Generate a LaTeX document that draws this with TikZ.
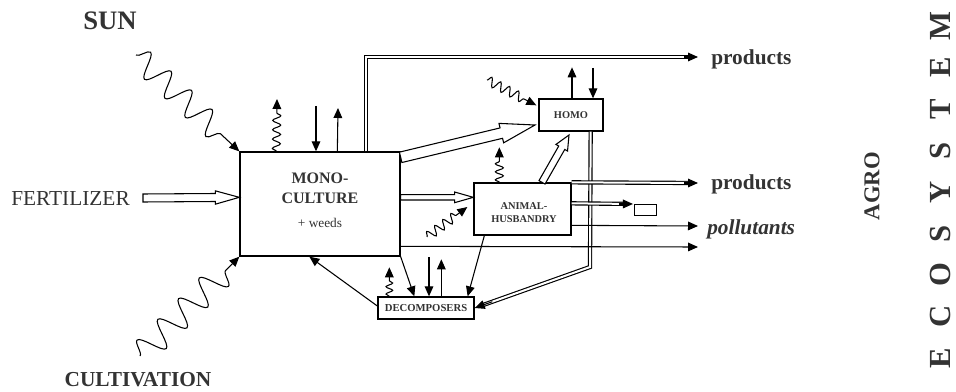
\documentclass[tikz,border=0pt]{standalone}
\usepackage{fontspec}
\setmainfont{Liberation Serif}
\usetikzlibrary{arrows.meta,decorations.pathmorphing,calc}
\definecolor{txt}{gray}{0.2}
\newcommand{\hollowarw}[5]{%
  \coordinate (fa-h) at ($(#2)!#5!(#1)$);
  \draw[hollow] ($(#1)!#3!90:(#2)$) -- ($(fa-h)!#3!90:(#2)$) -- ($(fa-h)!#4!90:(#2)$) -- (#2)
    -- ($(fa-h)!#4!-90:(#2)$) -- ($(fa-h)!#3!-90:(#2)$) -- ($(#1)!#3!-90:(#2)$) -- cycle;
}
\tikzset{
  box/.style={draw, line width=1pt, fill=white, inner sep=0pt, text=txt},
  con/.style={line width=0.8pt},
  tipa/.style={-{Triangle[length=7.5pt,width=6.5pt]}},
  dbl/.style={double, double distance=1.5pt, line width=0.85pt, shorten >=5pt},
  hollow/.style={line width=0.8pt, fill=white, line join=miter},
  wave/.style n args={3}{decorate, decoration={snake, amplitude=#1, segment length=#2, post length=#3}},
  lbl/.style={font=\bfseries, text=txt, inner sep=0pt},
}
\begin{document}
\begin{tikzpicture}[x=0.75pt,y=-0.75pt]
\useasboundingbox (0,0) rectangle (956,392);
% boxes
\node[box, minimum width=120pt, minimum height=78pt] (mono) at (320,204) {};
\node[lbl, font=\fontsize{12}{14}\bfseries] (monot1) at (320,178) {MONO-};
\node[lbl, font=\fontsize{12}{14}\bfseries] (monot2) at (320,198) {CULTURE};
\node[lbl, font=\fontsize{10}{12}\selectfont] (monot3) at (320,223) {+ weeds};
\node[box, minimum width=48pt, minimum height=24pt, font=\fontsize{7.8}{9}\bfseries] (homo) at (571,115) {HOMO};
\node[box, minimum width=72.75pt, minimum height=39pt] (husb) at (522.5,209) {};
\node[lbl, font=\fontsize{7.8}{9}\bfseries] (husbt1) at (524,206) {ANIMAL-};
\node[lbl, font=\fontsize{7.8}{9}\bfseries] (husbt2) at (524,219) {HUSBANDRY};
\node[box, minimum width=72pt, minimum height=16.5pt, font=\fontsize{8}{9}\bfseries] (decomp) at (426,308) {DECOMPOSERS};
\node[box, line width=0.8pt, minimum width=16.5pt, minimum height=8.25pt] (sink) at (645.5,210) {};
% labels
\node[lbl, font=\fontsize{20}{24}\bfseries] (sun) at (110,21) {SUN};
\node[lbl, font=\fontsize{16}{19}\bfseries] (cult) at (138,380) {CULTIVATION};
\node[lbl, font=\fontsize{16}{19}\selectfont, anchor=east] (fert) at (130,199) {FERTILIZER};
\node[lbl, font=\fontsize{16}{19}\bfseries, anchor=west] (prod1) at (711,59) {products};
\node[lbl, font=\fontsize{16}{19}\bfseries, anchor=west] (prod2) at (711,184) {products};
\node[lbl, font=\fontsize{16}{19}\bfseries\itshape, anchor=west] (poll) at (707,229) {pollutants};
\node[lbl, font=\fontsize{17}{20}\bfseries, rotate=90] (agro) at (872,186) {AGRO};
\foreach \l [count=\i from 0] in {E,C,O,S,Y,S,T,E,M}
  \node[lbl, font=\fontsize{23}{27}\bfseries, rotate=90] (eco\i) at (940,{358-41.5*\i}) {\l};
% fertilizer
\coordinate (ferttail) at (143,198);
\coordinate (fertin) at ($(mono.north west)+(0,46)$);
\hollowarw{ferttail}{fertin}{3pt}{5pt}{18pt}
% sun and cultivation
\coordinate (sunsrc) at (136,55);
\draw[con, tipa, wave={9pt}{21pt}{10pt}] (sunsrc) -- (mono.north west);
\coordinate (cultsrc) at (140,356);
\draw[con, tipa, wave={10pt}{22pt}{10pt}] (cultsrc) -- (mono.south west);
% monoculture top
\coordinate (mw1) at ($(mono.north west)+(37,0)$);
\coordinate (mw1e) at (277,99);
\draw[con, tipa, wave={3pt}{7pt}{9pt}] (mw1) -- (mw1e);
\coordinate (md1) at (316,106);
\draw[con, tipa] (md1) -- (md1 |- mono.north);
\coordinate (mu1) at ($(mono.north west)+(98,0)$);
\coordinate (mu1e) at (338,108);
\draw[con, tipa] (mu1) -- (mu1e);
\coordinate (mp) at ($(mono.north west)+(127,0)$);
\coordinate (p1tip) at (698,57);
\coordinate (mpc) at (mp |- p1tip);
\draw[dbl] (mp) -- (mpc) -- (p1tip);
\draw[con, tipa] ($(p1tip)+(-14,0)$) -- (p1tip);
% big arrow to homo
\coordinate (bigtail) at ($(mono.north east)+(0,6)$);
\coordinate (bigtip) at (535,125);
\hollowarw{bigtail}{bigtip}{4pt}{7.5pt}{26pt}
% homo
\coordinate (hwsrc) at (487,80);
\draw[con, tipa, wave={3.5pt}{7.5pt}{9pt}] (hwsrc) -- ($(homo.north west)+(-2,7)$);
\draw[con, tipa] ($(homo.north)+(1,0)$) -- ++(0,-31);
\coordinate (hd) at (593,68);
\draw[con, tipa] (hd) -- (hd |- homo.north);
\coordinate (hdb) at ($(homo.south east)+(-13,0)$);
\coordinate (hdc) at (590,267);
\draw[dbl] (hdb) -- (hdc) -- (decomp.east);
\draw[con, tipa] ($(decomp.east)!14pt!(hdc)$) -- (decomp.east);
% husbandry
\coordinate (hht) at ($(husb.north)+(19.5,0)$);
\coordinate (hhh) at (569,135);
\hollowarw{hht}{hhh}{2.6pt}{5pt}{11pt}
\coordinate (mht) at ($(mono.north east)+(0,46)$);
\coordinate (mhh) at ($(husb.north west)+(0,15)$);
\hollowarw{mht}{mhh}{2pt}{4pt}{14pt}
\draw[con, tipa, wave={3pt}{6pt}{9pt}] ($(husb.north west)+(26,0)$) -- ++(0,-35);
\coordinate (hlw) at (427,237);
\draw[con, tipa, wave={3.5pt}{7.5pt}{9pt}] (hlw) -- ($(husb.west)+(-6,-2)$);
\coordinate (p2tip) at (698,183);
\draw[dbl] (husb.north east) -- (p2tip);
\draw[con, tipa] ($(p2tip)+(-14,0)$) -- (p2tip);
\coordinate (sinkin) at ($(sink.north west)+(-1,0)$);
\draw[dbl] ($(husb.north east)+(0,21)$) -- (sinkin);
\draw[con, tipa] ($(sinkin)+(-14,0)$) -- (sinkin);
\coordinate (poltip) at (698,226);
\draw[con, tipa] ($(husb.north east)+(0,43)$) -- (poltip);
\coordinate (btip) at (698,247);
\draw[con, tipa] ($(mono.north east)+(0,95)$) -- (btip);
% decomposers
\draw[con, tipa] (mono.south east) -- ($(decomp.north west)+(37,0)$);
\draw[con, tipa] ($(husb.south west)+(11,0)$) -- ($(decomp.north east)+(-7,0)$);
\draw[con, tipa, wave={2.5pt}{5.5pt}{8pt}] ($(decomp.north west)+(12,0)$) -- ++(0,-29);
\coordinate (dd) at (429,257);
\draw[con, tipa] (dd) -- (dd |- decomp.north);
\draw[con, tipa] ($(decomp.north west)+(64,0)$) -- ++(0,-37);
\draw[con, tipa] ($(decomp.west)+(0,-2)$) -- ($(mono.south west)+(70,0)$);
\end{tikzpicture}
\end{document}
